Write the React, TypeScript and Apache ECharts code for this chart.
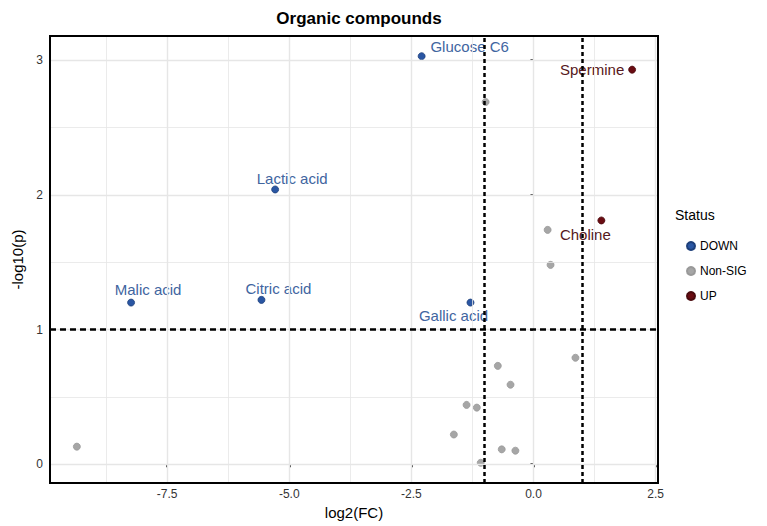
import React, { useEffect, useRef } from "react";
import * as echarts from "echarts";

// ---- data ----
const downNames = ["Glucose C6", "Lactic acid", "Malic acid", "Citric acid", "Gallic acid"];
const downX = [-2.29, -5.29, -8.24, -5.57, -1.29];
const downY = [3.03, 2.04, 1.2, 1.22, 1.2];

const upNames = ["Spermine", "Choline"];
const upX = [2.02, 1.39];
const upY = [2.93, 1.81];

const nsX = [-0.98, 0.29, 0.35, 0.86, -0.73, -0.47, -1.37, -1.16, -1.63, -0.65, -0.37, -1.08, -9.35];
const nsY = [2.69, 1.74, 1.48, 0.79, 0.73, 0.59, 0.44, 0.42, 0.22, 0.11, 0.1, 0.01, 0.13];

const xTicks = [-7.5, -5, -2.5, 0, 2.5];
const xMinor = [-8.75, -6.25, -3.75, -1.25, 1.25];
const yTicks = [0, 1, 2, 3];
const yMinor = [0.5, 1.5, 2.5];
const fcThresholds = [-1, 1];
const pThreshold = 1;
const statusNames = ["DOWN", "Non-SIG", "UP"];

// ---- label layout (pixel offsets of the text from its point) ----
const labelOffsets: Record<string, number[]> = {
  "Glucose C6": [48, -10],
  "Spermine": [-40, 0],
  "Lactic acid": [17, -11],
  "Choline": [-16, 14],
  "Malic acid": [17, -13],
  "Citric acid": [17, -11],
  "Gallic acid": [-17, 13],
};

const FONT = "'Liberation Sans', Arial, sans-serif";
const BLUE = "#2a56a3";
const BLUE_TXT = "#41659f";
const RED = "#6a0c12";
const RED_TXT = "#561820";
const GREY = "#a6a6a6";

function labelled(names: string[], xs: number[], ys: number[], txtColor: string) {
  return names.map((n, i) => ({
    name: n,
    value: [xs[i], ys[i]],
    label: {
      show: true,
      position: "inside",
      align: "center",
      verticalAlign: "middle",
      offset: labelOffsets[n] || [0, 0],
      formatter: n,
      color: txtColor,
      fontSize: 15,
      fontFamily: FONT,
    },
  }));
}

export default function App() {
  const ref = useRef<HTMLDivElement>(null);
  useEffect(() => {
    if (!ref.current) return;
    const chart = echarts.init(ref.current, undefined, { renderer: "svg" });
    const gridLines = [
      ...xTicks.map((v) => ({ xAxis: v, lineStyle: { width: 1.4 } })),
      ...xMinor.map((v) => ({ xAxis: v, lineStyle: { width: 0.8 } })),
      ...yTicks.map((v) => ({ yAxis: v, lineStyle: { width: 1.4 } })),
      ...yMinor.map((v) => ({ yAxis: v, lineStyle: { width: 0.8 } })),
    ];
    chart.setOption({
      animation: false,
      backgroundColor: "#fff",
      title: {
        text: "Organic compounds",
        left: 354,
        textAlign: "center",
        top: 5,
        textStyle: { fontSize: 17, fontWeight: "bold", color: "#000", fontFamily: FONT },
      },
      grid: {
        left: 50,
        right: 109,
        top: 36,
        bottom: 43,
        show: true,
        borderColor: "#000",
        borderWidth: 2,
        backgroundColor: "transparent",
        z: 10,
      },
      legend: {
        data: statusNames,
        orient: "vertical",
        left: 681,
        top: 235,
        itemWidth: 8,
        itemHeight: 8,
        itemGap: 13,
        icon: "circle",
        textStyle: { fontSize: 12, color: "#000", fontFamily: FONT },
      },
      graphic: [
        {
          type: "text",
          left: 675,
          top: 208,
          style: { text: "Status", fontSize: 14, fill: "#000", fontFamily: FONT },
        },
      ],
      xAxis: {
        type: "value",
        min: -9.9,
        max: 2.55,
        name: "log2(FC)",
        nameLocation: "middle",
        nameGap: 18,
        nameTextStyle: { fontSize: 15, color: "#000", fontFamily: FONT },
        axisLine: { show: false },
        axisTick: { show: true, customValues: xTicks, length: 3, lineStyle: { color: "#000", width: 1.5 } },
        axisLabel: {
          customValues: xTicks,
          formatter: (v: number) => v.toFixed(1),
          fontSize: 12,
          color: "#333",
          margin: 5,
          fontFamily: FONT,
        },
        splitLine: { show: false },
      },
      yAxis: {
        type: "value",
        min: -0.14,
        max: 3.18,
        name: "-log10(p)",
        nameLocation: "middle",
        nameGap: 22,
        nameTextStyle: { fontSize: 15, color: "#000", fontFamily: FONT },
        axisLine: { show: false },
        axisTick: { show: true, customValues: yTicks, length: 3, lineStyle: { color: "#000", width: 1.5 } },
        axisLabel: {
          customValues: yTicks,
          formatter: (v: number) => String(v),
          fontSize: 12,
          color: "#333",
          margin: 7,
          fontFamily: FONT,
        },
        splitLine: { show: false },
      },
      series: [
        {
          name: "_grid",
          type: "scatter",
          data: [],
          z: 1,
          silent: true,
          markLine: {
            silent: true,
            symbol: ["none", "none"],
            label: { show: false },
            lineStyle: { color: "#e6e6e6", type: "solid" },
            data: gridLines,
          },
        },
        {
          name: "Non-SIG",
          type: "scatter",
          symbolSize: 7,
          z: 3,
          itemStyle: { color: GREY, borderColor: "#999", borderWidth: 0.8, opacity: 1 },
          data: nsX.map((x, i) => [x, nsY[i]]),
        },
        {
          name: "DOWN",
          type: "scatter",
          symbolSize: 7,
          z: 4,
          itemStyle: { color: BLUE, borderColor: "#1d3f7a", borderWidth: 0.8, opacity: 1 },
          data: labelled(downNames, downX, downY, BLUE_TXT),
        },
        {
          name: "UP",
          type: "scatter",
          symbolSize: 7,
          z: 4,
          itemStyle: { color: RED, borderColor: "#4a0a0e", borderWidth: 0.8, opacity: 1 },
          data: labelled(upNames, upX, upY, RED_TXT),
        },
        {
          name: "_thr",
          type: "scatter",
          data: [],
          z: 6,
          silent: true,
          markLine: {
            silent: true,
            symbol: ["none", "none"],
            label: { show: false },
            data: [
              ...fcThresholds.map((v) => ({ xAxis: v, lineStyle: { color: "#000", width: 2.5, type: [4, 3] } })),
              { yAxis: pThreshold, lineStyle: { color: "#000", width: 2.5, type: [6, 4] } },
            ],
          },
        },
      ],
    });
    return () => chart.dispose();
  }, []);
  return <div ref={ref} style={{ width: 767, height: 526, position: "absolute", left: 0, top: 0 }} />;
}
